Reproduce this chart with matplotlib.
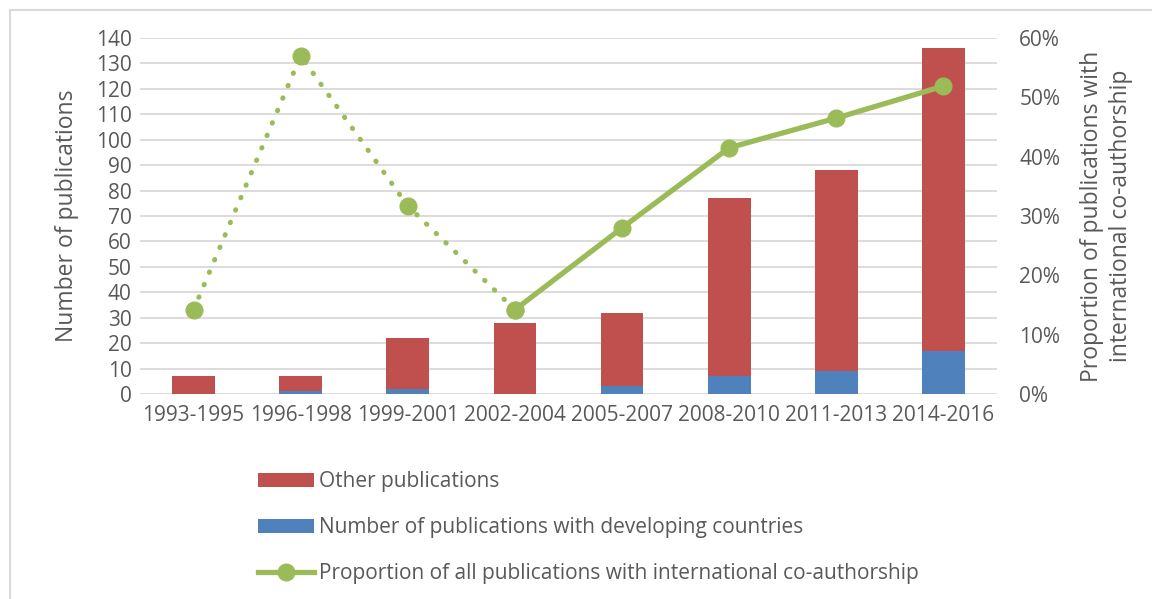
import matplotlib.pyplot as plt
from matplotlib.lines import Line2D
from matplotlib.patches import Patch, Rectangle
from matplotlib.ticker import PercentFormatter

plt.rcParams['font.family'] = ['Open Sans', 'DejaVu Sans']

periods = ["1993-1995", "1996-1998", "1999-2001", "2002-2004",
           "2005-2007", "2008-2010", "2011-2013", "2014-2016"]
developing = [0, 1, 2, 0, 3, 7, 9, 17]
other = [7, 6, 20, 28, 29, 70, 79, 119]
proportion = [14.2, 57.0, 31.7, 14.2, 28.0, 41.5, 46.5, 51.9]

RED = "#C0504D"
BLUE = "#4F81BD"
GREEN = "#9BBB59"
TXT = "#595959"
GRID = "#D9D9D9"

fig = plt.figure(figsize=(11.52, 5.99), dpi=100)
ax = fig.add_axes([140 / 1152, 1 - 394 / 599, 857 / 1152, 356 / 599])

# outer chart border (only left/top visible in the crop)
fig.patches.append(Rectangle((10 / 1152, -0.1), 1.2, (589 / 599) + 0.1,
                             transform=fig.transFigure, fill=False,
                             edgecolor=GRID, linewidth=1.5))

x = range(len(periods))
ax.bar(x, developing, width=0.4, color=BLUE, zorder=3)
ax.bar(x, other, width=0.4, bottom=developing, color=RED, zorder=3)

ax.set_xlim(-0.5, 7.5)
ax.set_ylim(0, 140)
ax.set_yticks(range(0, 141, 10))
ax.set_xticks(list(x))
ax.set_xticklabels(periods)
ax.grid(axis="y", color=GRID, linewidth=1.3, zorder=0)
for s in ax.spines.values():
    s.set_visible(False)
ax.tick_params(length=0, labelsize=15, labelcolor=TXT, pad=6)
ax.tick_params(axis="x", pad=8)
ax.set_ylabel("Number of publications", fontsize=16.5, color=TXT, labelpad=12)

ax2 = ax.twinx()
ax2.set_ylim(0, 60)
ax2.set_yticks(range(0, 61, 10))
ax2.yaxis.set_major_formatter(PercentFormatter(decimals=0))
for s in ax2.spines.values():
    s.set_visible(False)
ax2.tick_params(length=0, labelsize=15, labelcolor=TXT, pad=16)
ax2.set_ylabel("Proportion of publications with\ninternational co-authorship",
               fontsize=16.5, color=TXT, labelpad=14, linespacing=1.3)

# dotted part up to 2002-2004, solid afterwards
ax2.plot(list(x)[:4], proportion[:4], color=GREEN, linewidth=3.6,
         linestyle=(0, (0.1, 2.6)), dash_capstyle="round",
         marker="o", markersize=12, zorder=4)
ax2.plot(list(x)[3:], proportion[3:], color=GREEN, linewidth=3.8,
         marker="o", markersize=12, zorder=4)

handles = [
    Patch(facecolor=RED),
    Patch(facecolor=BLUE),
    Line2D([0], [0], color=GREEN, linewidth=3.8, marker="o", markersize=12),
]
labels = ["Other publications",
          "Number of publications with developing countries",
          "Proportion of all publications with international co-authorship"]
leg = fig.legend(handles, labels, loc="upper left",
                 bbox_to_anchor=(250 / 1152, 1 - 463 / 599),
                 frameon=False, fontsize=15, labelcolor=TXT,
                 handlelength=2.65, handleheight=0.7, handletextpad=0.25,
                 labelspacing=1.2, borderaxespad=0)

fig.savefig("out.png", dpi=100)
